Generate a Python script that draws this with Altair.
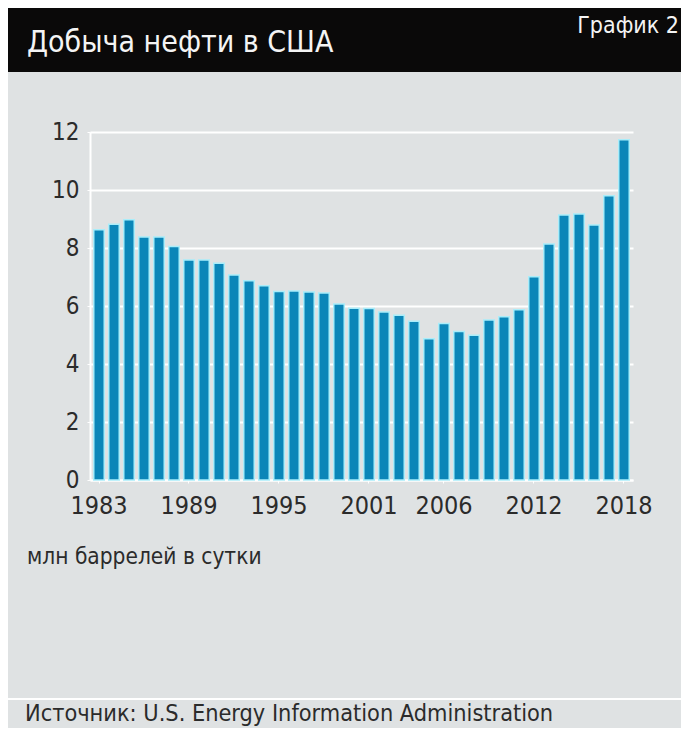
import altair as alt
import pandas as pd

years = [1983, 1984, 1985, 1986, 1987, 1988, 1989, 1990, 1991, 1992,
         1993, 1994, 1995, 1996, 1997, 1998, 1999, 2000, 2001, 2002,
         2003, 2004, 2005, 2006, 2007, 2008, 2009, 2010, 2011, 2012,
         2013, 2014, 2015, 2016, 2017, 2018]
production = [8.63, 8.82, 8.97, 8.38, 8.38, 8.05, 7.59, 7.59, 7.47, 7.07,
              6.87, 6.70, 6.50, 6.52, 6.48, 6.45, 6.07, 5.92, 5.91, 5.79,
              5.68, 5.47, 4.87, 5.40, 5.12, 4.99, 5.52, 5.63, 5.87, 7.01,
              8.14, 9.14, 9.17, 8.79, 9.80, 11.73]
x_tick_labels = [1983, 1989, 1995, 2001, 2006, 2012, 2018]
y_ticks = [0, 2, 4, 6, 8, 10, 12]

title_text = "Добыча нефти в США"
badge_text = "График 2"
unit_text = "млн баррелей в сутки"
source_text = "Источник: U.S. Energy Information Administration"

FONT = "DejaVu Sans Condensed, Roboto, sans-serif"
TEXT_COLOR = "#2b2b2b"
BG = "#dfe2e3"

df = pd.DataFrame({"year": years, "value": production})

bars = alt.Chart(df).mark_bar(
    color="#0b86b8", stroke="#a9edfa", strokeWidth=1.5
).encode(
    x=alt.X(
        "year:O",
        scale=alt.Scale(paddingInner=0.3, paddingOuter=0.25),
        axis=alt.Axis(
            values=x_tick_labels, labelAngle=0, title=None,
            labelFont=FONT, labelFontSize=25, labelColor=TEXT_COLOR,
            labelPadding=10, tickColor="white", tickSize=3,
            domainColor="white", domainWidth=2, labelOverlap=False,
        ),
    ),
    y=alt.Y(
        "value:Q",
        scale=alt.Scale(domain=[0, 12], nice=False),
        axis=alt.Axis(
            values=y_ticks, title=None, grid=True, gridColor="white",
            gridWidth=2, labelFont=FONT, labelFontSize=24,
            labelColor=TEXT_COLOR, labelPadding=8, tickColor="white",
            tickSize=3, domainColor="white", domainWidth=2,
        ),
    ),
)

one = alt.Data(values=[{}])

header = alt.Chart(one).mark_rect(color="#0a0909").encode(
    x=alt.value(-82), x2=alt.value(591), y=alt.value(-124), y2=alt.value(-60)
)

title = alt.Chart(one).mark_text(
    text=title_text, font=FONT, fontSize=30, color="#f4f4f4",
    align="left", baseline="alphabetic",
).encode(x=alt.value(-63), y=alt.value(-80))

badge = alt.Chart(one).mark_text(
    text=badge_text, font=FONT, fontSize=23, color="#f4f4f4",
    align="right", baseline="alphabetic",
).encode(x=alt.value(589), y=alt.value(-99))

unit = alt.Chart(one).mark_text(
    text=unit_text, font=FONT, fontSize=22.5, color=TEXT_COLOR,
    align="left", baseline="alphabetic",
).encode(x=alt.value(-63), y=alt.value(432))

footer_line = alt.Chart(one).mark_rule(color="white", strokeWidth=2).encode(
    x=alt.value(-82), x2=alt.value(591), y=alt.value(567)
)

source = alt.Chart(one).mark_text(
    text=source_text, font=FONT, fontSize=23.3, color=TEXT_COLOR,
    align="left", baseline="alphabetic",
).encode(x=alt.value(-65), y=alt.value(589))

chart = alt.layer(
    header, bars, title, badge, unit, footer_line, source
).properties(
    width=543, height=348,
    padding={"left": 82, "top": 124, "right": 48, "bottom": 248},
    autosize=alt.AutoSizeParams(type="none"),
    background=BG,
).configure_view(strokeWidth=0)

chart.save("out.html", embed_options={"renderer": "svg", "actions": False})
